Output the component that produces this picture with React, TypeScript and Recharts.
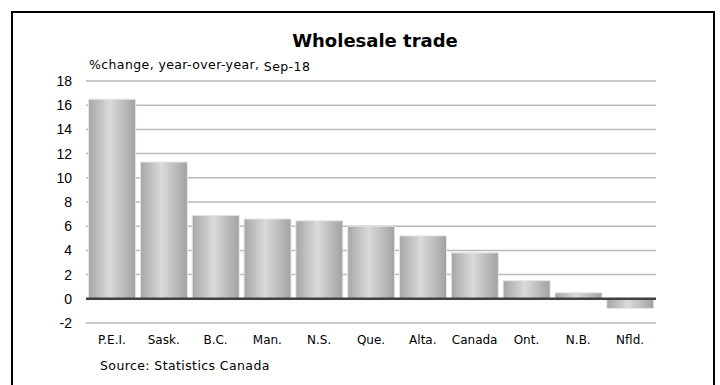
import React from "react"
import { Bar, BarChart, XAxis, YAxis, CartesianGrid, ReferenceLine } from "recharts"

const regions = ["P.E.I.", "Sask.", "B.C.", "Man.", "N.S.", "Que.", "Alta.", "Canada", "Ont.", "N.B.", "Nfld."]
const changes = [16.5, 11.3, 6.9, 6.6, 6.45, 6.0, 5.2, 3.8, 1.5, 0.5, -0.8]
const yTicks = [-2, 0, 2, 4, 6, 8, 10, 12, 14, 16, 18]

const chartData = regions.map((region, i) => ({ region, change: changes[i] }))

const labelFont = "'DejaVu Sans', Verdana, sans-serif"

export default function App() {
  return (
    <div style={{ position: "absolute", left: 0, top: 0, width: 720, height: 385, overflow: "hidden", background: "#fff" }}>
      {/* frame */}
      <div
        style={{
          position: "absolute",
          left: 11,
          top: 11,
          width: 700,
          height: 420,
          border: "2px solid #000",
        }}
      />
      <div
        style={{
          position: "absolute",
          left: 0,
          width: 750,
          top: 30,
          textAlign: "center",
          fontFamily: labelFont,
          fontWeight: "bold",
          fontSize: 18,
          color: "#000",
        }}
      >
        Wholesale trade
      </div>
      <div style={{ position: "absolute", left: 89, top: 57, fontFamily: labelFont, fontSize: 12.5, letterSpacing: 0.4, color: "#000" }}>
        %change, year-over-year,{" "}
        <span style={{ position: "relative", top: 2 }}>Sep-18</span>
      </div>
      <div style={{ position: "absolute", left: 100, top: 358, fontFamily: labelFont, fontSize: 12.5, letterSpacing: 0.4, color: "#000" }}>
        Source: Statistics Canada
      </div>
      <div style={{ position: "absolute", left: 0, top: 0 }}>
        <BarChart
          width={720}
          height={385}
          data={chartData}
          margin={{ top: 81, right: 64, left: 0, bottom: 32 }}
          barCategoryGap="5%"
        >
          <defs>
            <linearGradient id="barShade" x1="0" y1="0" x2="1" y2="0">
              <stop offset="0%" stopColor="#a6a6a6" />
              <stop offset="45%" stopColor="#dadada" />
              <stop offset="100%" stopColor="#a2a2a2" />
            </linearGradient>
          </defs>
          <CartesianGrid vertical={false} stroke="#b9b9b9" strokeWidth={1.5} />
          <XAxis
            dataKey="region"
            height={30}
            axisLine={false}
            tickLine={false}
            interval={0}
            tickMargin={6}
            tick={{ fontSize: 12, fill: "#000", fontFamily: labelFont }}
          />
          <YAxis
            domain={[-2, 18]}
            ticks={yTicks}
            width={86}
            axisLine={false}
            tickLine={false}
            tickMargin={8}
            tick={{ fontSize: 14, fill: "#000", fontFamily: "'Liberation Sans', Arial, sans-serif" }}
          />
          <Bar dataKey="change" fill="url(#barShade)" stroke="#e6e6e6" strokeWidth={1} isAnimationActive={false} />
          <ReferenceLine y={0} stroke="#404040" strokeWidth={2.5} />
        </BarChart>
      </div>
    </div>
  )
}
